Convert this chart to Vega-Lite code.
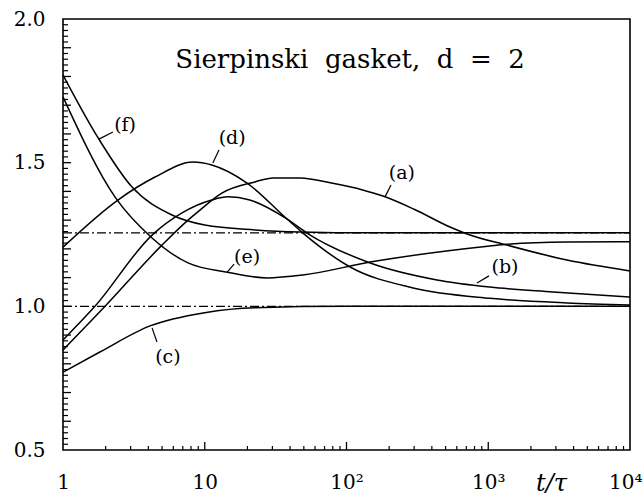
{
  "$schema": "https://vega.github.io/schema/vega-lite/v6.json",
  "width": 567,
  "height": 431,
  "autosize": {"type": "none"},
  "padding": {"left": 63, "top": 19, "right": 13, "bottom": 52},
  "background": "white",
  "config": {
    "view": {"stroke": "black", "strokeWidth": 1.6},
    "axis": {"grid": false, "domain": false, "labelColor": "black", "labelFont": "DejaVu Serif", "labelFontSize": 20, "labelFlush": false, "labelOverlap": false}
  },
  "datasets": {
    "curves": [
      {"c": "a", "t": 1, "v": 0.848}, {"c": "a", "t": 1.98, "v": 1.0}, {"c": "a", "t": 4.99, "v": 1.213}, {"c": "a", "t": 7.62, "v": 1.3}, {"c": "a", "t": 9.25, "v": 1.335}, {"c": "a", "t": 13.2, "v": 1.394}, {"c": "a", "t": 22.6, "v": 1.433}, {"c": "a", "t": 30.3, "v": 1.447}, {"c": "a", "t": 47, "v": 1.447}, {"c": "a", "t": 80, "v": 1.428}, {"c": "a", "t": 130, "v": 1.405}, {"c": "a", "t": 181, "v": 1.384}, {"c": "a", "t": 300, "v": 1.338}, {"c": "a", "t": 537, "v": 1.276}, {"c": "a", "t": 708, "v": 1.252}, {"c": "a", "t": 1356, "v": 1.213}, {"c": "a", "t": 3594, "v": 1.161}, {"c": "a", "t": 10000, "v": 1.123},
      {"c": "b", "t": 1, "v": 0.883}, {"c": "b", "t": 1.68, "v": 1.0}, {"c": "b", "t": 4.25, "v": 1.248}, {"c": "b", "t": 6.91, "v": 1.325}, {"c": "b", "t": 11.2, "v": 1.37}, {"c": "b", "t": 14.6, "v": 1.381}, {"c": "b", "t": 20.8, "v": 1.37}, {"c": "b", "t": 38, "v": 1.304}, {"c": "b", "t": 52.6, "v": 1.255}, {"c": "b", "t": 147, "v": 1.151}, {"c": "b", "t": 435, "v": 1.092}, {"c": "b", "t": 1029, "v": 1.067}, {"c": "b", "t": 2864, "v": 1.05}, {"c": "b", "t": 10000, "v": 1.032},
      {"c": "c", "t": 1, "v": 0.771}, {"c": "c", "t": 1.82, "v": 0.841}, {"c": "c", "t": 4.11, "v": 0.932}, {"c": "c", "t": 10, "v": 0.978}, {"c": "c", "t": 22.6, "v": 0.995}, {"c": "c", "t": 100, "v": 1.0}, {"c": "c", "t": 10000, "v": 1.0},
      {"c": "d", "t": 1, "v": 1.206}, {"c": "d", "t": 2.44, "v": 1.37}, {"c": "d", "t": 4.46, "v": 1.45}, {"c": "d", "t": 8.26, "v": 1.502}, {"c": "d", "t": 11.2, "v": 1.492}, {"c": "d", "t": 19.9, "v": 1.429}, {"c": "d", "t": 38, "v": 1.304}, {"c": "d", "t": 49.3, "v": 1.255}, {"c": "d", "t": 106, "v": 1.137}, {"c": "d", "t": 295, "v": 1.064}, {"c": "d", "t": 1029, "v": 1.028}, {"c": "d", "t": 3594, "v": 1.012}, {"c": "d", "t": 10000, "v": 1.005},
      {"c": "e", "t": 1, "v": 1.729}, {"c": "e", "t": 2.33, "v": 1.38}, {"c": "e", "t": 4.25, "v": 1.238}, {"c": "e", "t": 7.62, "v": 1.151}, {"c": "e", "t": 14.4, "v": 1.119}, {"c": "e", "t": 27.5, "v": 1.099}, {"c": "e", "t": 49.3, "v": 1.109}, {"c": "e", "t": 147, "v": 1.154}, {"c": "e", "t": 1029, "v": 1.21}, {"c": "e", "t": 1356, "v": 1.216}, {"c": "e", "t": 3594, "v": 1.224}, {"c": "e", "t": 10000, "v": 1.225},
      {"c": "f", "t": 1, "v": 1.805}, {"c": "f", "t": 1.77, "v": 1.586}, {"c": "f", "t": 3.07, "v": 1.415}, {"c": "f", "t": 5.87, "v": 1.318}, {"c": "f", "t": 10, "v": 1.283}, {"c": "f", "t": 22.6, "v": 1.266}, {"c": "f", "t": 47, "v": 1.259}, {"c": "f", "t": 150, "v": 1.256}, {"c": "f", "t": 10000, "v": 1.256}
    ],
    "refs": [
      {"g": "A", "t": 1, "v": 1.0}, {"g": "A", "t": 10000, "v": 1.0},
      {"g": "B", "t": 1, "v": 1.256}, {"g": "B", "t": 10000, "v": 1.256}
    ],
    "labels": [
      {"label": "(a)", "t": 246, "v": 1.464, "t1": 187, "v1": 1.381, "t2": 206, "v2": 1.422},
      {"label": "(b)", "t": 1313, "v": 1.137, "t1": 833, "v1": 1.081, "t2": 1012, "v2": 1.106},
      {"label": "(c)", "t": 5.5, "v": 0.824, "t1": 4.25, "v1": 0.925, "t2": 4.6, "v2": 0.876},
      {"label": "(d)", "t": 15.6, "v": 1.586, "t1": 11.4, "v1": 1.499, "t2": 12.6, "v2": 1.544},
      {"label": "(e)", "t": 19.9, "v": 1.172, "t1": 14.4, "v1": 1.119, "t2": 16.1, "v2": 1.147},
      {"label": "(f)", "t": 2.74, "v": 1.631, "t1": 1.795, "v1": 1.582, "t2": 2.25, "v2": 1.607}
    ],
    "title": [
      {"text": "Sierpinski\u00a0\u00a0gasket,\u00a0\u00a0d\u00a0\u00a0=\u00a0\u00a02", "t": 106, "v": 1.857}
    ],
    "xmajor": [{"t": 10}, {"t": 100}, {"t": 1000}],
    "xminor": [{"t": 2}, {"t": 3}, {"t": 4}, {"t": 5}, {"t": 6}, {"t": 7}, {"t": 8}, {"t": 9}, {"t": 20}, {"t": 30}, {"t": 40}, {"t": 50}, {"t": 60}, {"t": 70}, {"t": 80}, {"t": 90}, {"t": 200}, {"t": 300}, {"t": 400}, {"t": 500}, {"t": 600}, {"t": 700}, {"t": 800}, {"t": 900}, {"t": 2000}, {"t": 3000}, {"t": 4000}, {"t": 5000}, {"t": 6000}, {"t": 7000}, {"t": 8000}, {"t": 9000}],
    "ymajor": [{"v": 0.6}, {"v": 0.7}, {"v": 0.8}, {"v": 0.9}, {"v": 1.0}, {"v": 1.1}, {"v": 1.2}, {"v": 1.3}, {"v": 1.4}, {"v": 1.5}, {"v": 1.6}, {"v": 1.7}, {"v": 1.8}, {"v": 1.9}],
    "yminor": [{"v": 0.52}, {"v": 0.54}, {"v": 0.56}, {"v": 0.58}, {"v": 0.62}, {"v": 0.64}, {"v": 0.66}, {"v": 0.68}, {"v": 0.72}, {"v": 0.74}, {"v": 0.76}, {"v": 0.78}, {"v": 0.82}, {"v": 0.84}, {"v": 0.86}, {"v": 0.88}, {"v": 0.92}, {"v": 0.94}, {"v": 0.96}, {"v": 0.98}, {"v": 1.02}, {"v": 1.04}, {"v": 1.06}, {"v": 1.08}, {"v": 1.12}, {"v": 1.14}, {"v": 1.16}, {"v": 1.18}, {"v": 1.22}, {"v": 1.24}, {"v": 1.26}, {"v": 1.28}, {"v": 1.32}, {"v": 1.34}, {"v": 1.36}, {"v": 1.38}, {"v": 1.42}, {"v": 1.44}, {"v": 1.46}, {"v": 1.48}, {"v": 1.52}, {"v": 1.54}, {"v": 1.56}, {"v": 1.58}, {"v": 1.62}, {"v": 1.64}, {"v": 1.66}, {"v": 1.68}, {"v": 1.72}, {"v": 1.74}, {"v": 1.76}, {"v": 1.78}, {"v": 1.82}, {"v": 1.84}, {"v": 1.86}, {"v": 1.88}, {"v": 1.92}, {"v": 1.94}, {"v": 1.96}, {"v": 1.98}]
  },
  "layer": [
    {
      "data": {"name": "curves"},
      "mark": {"type": "line", "interpolate": "monotone", "color": "black", "strokeWidth": 1.5},
      "encoding": {
        "x": {"field": "t", "type": "quantitative", "scale": {"type": "log", "domain": [1, 10000]},
          "axis": {"orient": "bottom", "values": [1, 10, 100, 1000, 10000], "ticks": false, "labelPadding": 22,
            "labelAlign": {"condition": {"test": "datum.value == 10000", "value": "right"}, "value": "center"},
            "labelOffset": {"condition": {"test": "datum.value == 10000", "value": 12}, "value": 0},
            "labelExpr": "datum.value == 1 ? '1' : datum.value == 10 ? '10' : datum.value == 100 ? '10²' : datum.value == 1000 ? '10³' : '10⁴'",
            "title": "t/τ", "titleFont": "DejaVu Serif", "titleFontStyle": "italic", "titleFontWeight": "normal", "titleFontSize": 24, "titleColor": "black", "titleX": 488, "titleY": 33, "titleAlign": "center", "titleBaseline": "middle"}},
        "y": {"field": "v", "type": "quantitative", "scale": {"domain": [0.5, 2.0], "zero": false},
          "axis": {"orient": "left", "values": [0.5, 1.0, 1.5, 2.0], "ticks": false, "labelPadding": 18, "format": ".1f", "title": null}},
        "detail": {"field": "c"}
      }
    },
    {
      "data": {"name": "refs"},
      "mark": {"type": "line", "color": "black", "strokeWidth": 1.2, "strokeDash": [9, 3, 2, 3]},
      "encoding": {
        "x": {"field": "t", "type": "quantitative", "scale": {"type": "log", "domain": [1, 10000]}},
        "y": {"field": "v", "type": "quantitative", "scale": {"domain": [0.5, 2.0], "zero": false}},
        "detail": {"field": "g"}
      }
    },
    {
      "data": {"name": "labels"},
      "mark": {"type": "rule", "color": "black", "strokeWidth": 1.2},
      "encoding": {
        "x": {"field": "t1", "type": "quantitative", "scale": {"type": "log", "domain": [1, 10000]}},
        "x2": {"field": "t2"},
        "y": {"field": "v1", "type": "quantitative", "scale": {"domain": [0.5, 2.0], "zero": false}},
        "y2": {"field": "v2"}
      }
    },
    {
      "data": {"name": "labels"},
      "mark": {"type": "text", "font": "DejaVu Serif", "fontSize": 19, "color": "black", "align": "center", "baseline": "middle"},
      "encoding": {
        "x": {"field": "t", "type": "quantitative", "scale": {"type": "log", "domain": [1, 10000]}},
        "y": {"field": "v", "type": "quantitative", "scale": {"domain": [0.5, 2.0], "zero": false}},
        "text": {"field": "label"}
      }
    },
    {
      "data": {"name": "title"},
      "mark": {"type": "text", "font": "DejaVu Serif", "fontSize": 26, "color": "black", "align": "center", "baseline": "middle"},
      "encoding": {
        "x": {"field": "t", "type": "quantitative", "scale": {"type": "log", "domain": [1, 10000]}},
        "y": {"field": "v", "type": "quantitative", "scale": {"domain": [0.5, 2.0], "zero": false}},
        "text": {"field": "text"}
      }
    },
    {
      "data": {"name": "xmajor"},
      "mark": {"type": "tick", "orient": "vertical", "size": 8, "thickness": 1.3, "color": "black", "opacity": 1, "yOffset": -4},
      "encoding": {
        "x": {"field": "t", "type": "quantitative", "scale": {"type": "log", "domain": [1, 10000]}},
        "y": {"datum": 0.5, "type": "quantitative", "scale": {"domain": [0.5, 2.0], "zero": false}}
      }
    },
    {
      "data": {"name": "xminor"},
      "mark": {"type": "tick", "orient": "vertical", "size": 4, "thickness": 1.2, "color": "black", "opacity": 1, "yOffset": -2},
      "encoding": {
        "x": {"field": "t", "type": "quantitative", "scale": {"type": "log", "domain": [1, 10000]}},
        "y": {"datum": 0.5, "type": "quantitative", "scale": {"domain": [0.5, 2.0], "zero": false}}
      }
    },
    {
      "data": {"name": "ymajor"},
      "mark": {"type": "tick", "orient": "horizontal", "size": 8, "thickness": 1.3, "color": "black", "opacity": 1, "xOffset": 4},
      "encoding": {
        "x": {"datum": 1, "type": "quantitative", "scale": {"type": "log", "domain": [1, 10000]}},
        "y": {"field": "v", "type": "quantitative", "scale": {"domain": [0.5, 2.0], "zero": false}}
      }
    },
    {
      "data": {"name": "yminor"},
      "mark": {"type": "tick", "orient": "horizontal", "size": 5, "thickness": 1.2, "color": "black", "opacity": 1, "xOffset": 2.5},
      "encoding": {
        "x": {"datum": 1, "type": "quantitative", "scale": {"type": "log", "domain": [1, 10000]}},
        "y": {"field": "v", "type": "quantitative", "scale": {"domain": [0.5, 2.0], "zero": false}}
      }
    }
  ]
}
